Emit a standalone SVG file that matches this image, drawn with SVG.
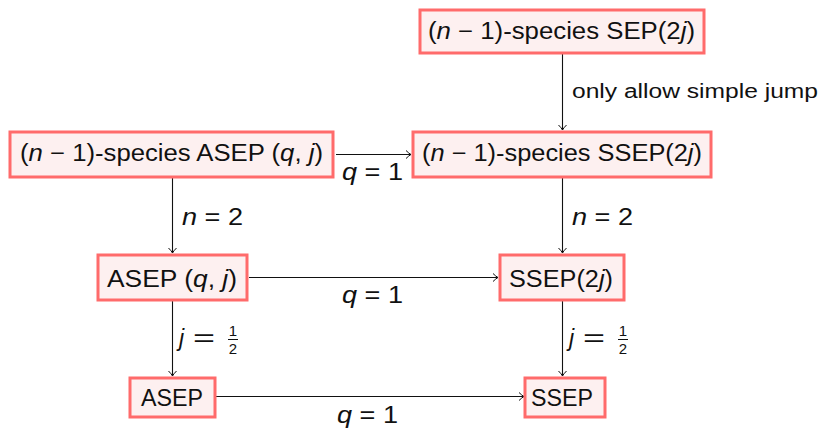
<svg xmlns="http://www.w3.org/2000/svg" width="827" height="429" viewBox="0 0 827 429">
  <style>
    .box { fill: #fdf0f0; stroke: #ff6b6b; stroke-width: 3; }
    .t, .lbl, .sm, .fr { font-family: "Liberation Sans", Arial, sans-serif; font-weight: 400; fill: #111; }
    .t, .lbl { font-size: 23px; }
    .sm { font-size: 20px; }
    .fr { font-size: 15px; text-anchor: middle; }
    .it { font-style: italic; }
    .edge { stroke: #111; stroke-width: 1.1; fill: none; marker-end: url(#tip); }
  </style>
  <defs>
    <marker id="tip" viewBox="-6 -5 7 10" refX="0" refY="0" markerWidth="7" markerHeight="10" markerUnits="userSpaceOnUse" orient="auto">
      <path d="M-5,-4 Q-2,-1 0,0 Q-2,1 -5,4" fill="none" stroke="#111" stroke-width="1"/>
    </marker>
  </defs>
  <rect width="827" height="429" fill="#ffffff"/>

  <g id="connectors">
    <line class="edge" x1="562.5" y1="53" x2="562.5" y2="130"/>
    <line class="edge" x1="336" y1="154.5" x2="411" y2="154.5"/>
    <line class="edge" x1="172.5" y1="177" x2="172.5" y2="253"/>
    <line class="edge" x1="562.5" y1="177" x2="562.5" y2="253"/>
    <line class="edge" x1="249" y1="277.5" x2="498" y2="277.5"/>
    <line class="edge" x1="172.5" y1="301" x2="172.5" y2="376"/>
    <line class="edge" x1="562.5" y1="301" x2="562.5" y2="376"/>
    <line class="edge" x1="216" y1="396.5" x2="524" y2="396.5"/>

    <text class="sm" x="572" y="98" textLength="246" lengthAdjust="spacingAndGlyphs">only allow simple jump</text>
    <text class="lbl" x="342" y="180" textLength="61" lengthAdjust="spacingAndGlyphs"><tspan class="it">q</tspan> = 1</text>
    <text class="lbl" x="182" y="225" textLength="61" lengthAdjust="spacingAndGlyphs"><tspan class="it">n</tspan> = 2</text>
    <text class="lbl" x="572" y="225" textLength="61" lengthAdjust="spacingAndGlyphs"><tspan class="it">n</tspan> = 2</text>
    <text class="lbl" x="342" y="303" textLength="61" lengthAdjust="spacingAndGlyphs"><tspan class="it">q</tspan> = 1</text>
    <text class="lbl" x="337" y="423" textLength="61" lengthAdjust="spacingAndGlyphs"><tspan class="it">q</tspan> = 1</text>

    <text class="lbl it" x="179" y="346">j</text>
    <text class="lbl" x="193" y="346" textLength="22" lengthAdjust="spacingAndGlyphs">=</text>
    <text class="fr" x="233" y="336">1</text>
    <line x1="228" y1="339.5" x2="238" y2="339.5" stroke="#111" stroke-width="1"/>
    <text class="fr" x="233" y="354">2</text>

    <text class="lbl it" x="569" y="346">j</text>
    <text class="lbl" x="583" y="346" textLength="22" lengthAdjust="spacingAndGlyphs">=</text>
    <text class="fr" x="623" y="336">1</text>
    <line x1="618" y1="339.5" x2="628" y2="339.5" stroke="#111" stroke-width="1"/>
    <text class="fr" x="623" y="354">2</text>
  </g>

  <g id="sep-n1">
    <rect class="box" x="420" y="10" width="284" height="43"/>
    <text class="t" x="428" y="39" textLength="267" lengthAdjust="spacingAndGlyphs">(<tspan class="it">n</tspan> − 1)-species SEP(2<tspan class="it">j</tspan>)</text>
  </g>

  <g id="asep-n1">
    <rect class="box" x="10" y="132" width="323" height="45"/>
    <text class="t" x="20" y="161" textLength="303" lengthAdjust="spacingAndGlyphs">(<tspan class="it">n</tspan> − 1)-species ASEP (<tspan class="it">q</tspan>, <tspan class="it">j</tspan>)</text>
  </g>

  <g id="ssep-n1">
    <rect class="box" x="413" y="132" width="298" height="45"/>
    <text class="t" x="422" y="161" textLength="280" lengthAdjust="spacingAndGlyphs">(<tspan class="it">n</tspan> − 1)-species SSEP(2<tspan class="it">j</tspan>)</text>
  </g>

  <g id="asep-qj">
    <rect class="box" x="98" y="255" width="149" height="45"/>
    <text class="t" x="107" y="287" textLength="130" lengthAdjust="spacingAndGlyphs">ASEP (<tspan class="it">q</tspan>, <tspan class="it">j</tspan>)</text>
  </g>

  <g id="ssep-2j">
    <rect class="box" x="500" y="255" width="124" height="45"/>
    <text class="t" x="509" y="287" textLength="104" lengthAdjust="spacingAndGlyphs">SSEP(2<tspan class="it">j</tspan>)</text>
  </g>

  <g id="asep">
    <rect class="box" x="130" y="378" width="85" height="39"/>
    <text class="t" x="141" y="406" textLength="62" lengthAdjust="spacingAndGlyphs">ASEP</text>
  </g>

  <g id="ssep">
    <rect class="box" x="525" y="378" width="80" height="39"/>
    <text class="t" x="531" y="406" textLength="62" lengthAdjust="spacingAndGlyphs">SSEP</text>
  </g>
</svg>
